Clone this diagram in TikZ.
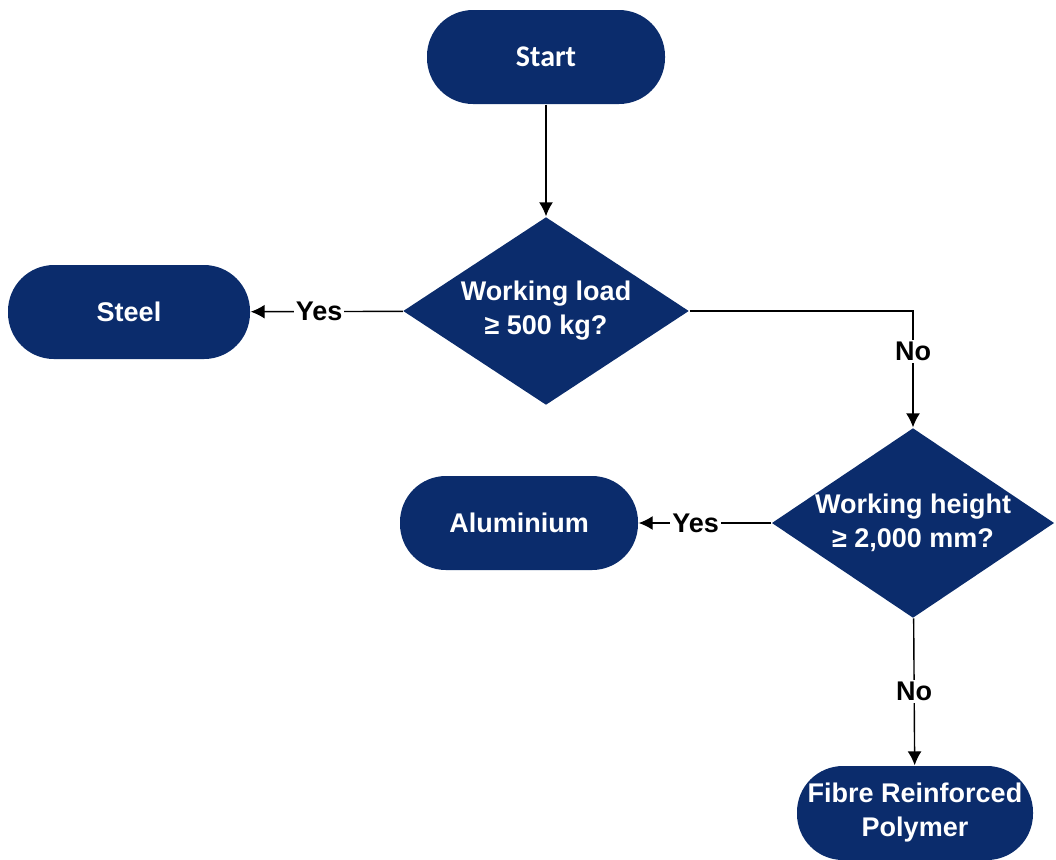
\documentclass[tikz,border=0pt]{standalone}
\usepackage{fontspec}
\setmainfont{Liberation Sans}
\newfontfamily\startfont{Carlito}
\usetikzlibrary{shapes.geometric,arrows.meta,positioning}
\definecolor{navy}{HTML}{0B2C6C}
\tikzset{
myterm/.style={
  fill=navy,
  text=white,
  font=\bfseries\fontsize{13.5}{17}\selectfont,
  align=center,
  rounded corners=23pt,
  minimum height=47pt,
  minimum width=#1,
  inner sep=2pt
  },
myterm/.default=119pt,
mydec/.style={
  diamond,
  shape aspect=1.5,
  fill=navy,
  text=white,
  font=\bfseries\fontsize{13.5}{17}\selectfont,
  align=center,
  minimum width=#1,
  minimum height=94pt,
  inner sep=0pt
  },
mylab/.style={
  fill=white,
  font=\bfseries\fontsize{13.5}{16}\selectfont,
  inner sep=1pt
  }
}
\begin{document}
\begin{tikzpicture}[>={Latex[length=7pt,width=7pt]},x=0.5pt,y=-0.5pt,line width=0.7pt]
            \useasboundingbox (0,0) rectangle (1056,859);
            \node[myterm] (start) at (546,57) {\startfont\fontsize{15}{17}\selectfont Start};
            \node[mydec=143pt] (load) at (546,311) {Working load\\≥ 500 kg?};
            \node[myterm=121pt] (steel) at (129,312) {Steel};
            \node[mydec=138pt,minimum height=95pt] (height) at (913,523) {Working height\\≥ 2,000 mm?};
            \node[myterm] (alu) at (519,523) {Aluminium};
            \node[myterm=118pt] (frp) at (915,813) {Fibre Reinforced\\Polymer};
            % connectors
            \draw[->] (start) -- (load);
            \draw[->] (load) -- node[mylab,pos=0.55]{Yes} (steel);
            \draw[->] (load.east) -| node[mylab,pos=0.675]{No} (height.north);
            \draw[->] (height) -- node[mylab,pos=0.57]{Yes} (alu);
            \draw[->] (height) -- node[mylab]{No} (frp);
        \end{tikzpicture}
\end{document}
